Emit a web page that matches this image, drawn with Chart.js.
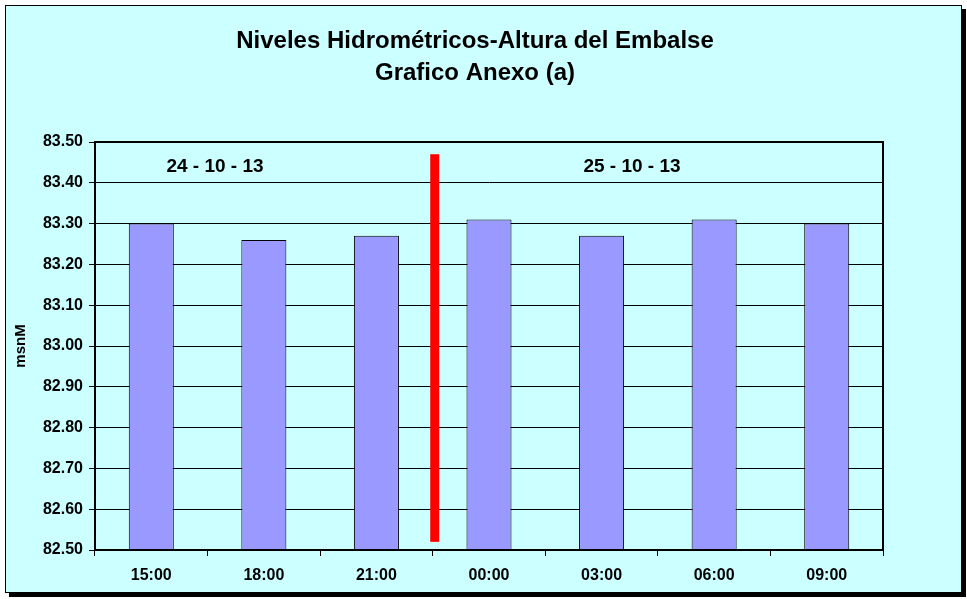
<!DOCTYPE html>
<html>
<head>
<meta charset="utf-8">
<script src="https://cdn.jsdelivr.net/npm/chart.js@4.4.0/dist/chart.umd.min.js"></script>
<style>
  body { margin: 0; background: #fff; }
  #frame {
    position: absolute; left: 5px; top: 5px; width: 955px; height: 586px;
    background: #CCFFFF; border: 1px solid #000; box-shadow: 4px 4px 0 #000;
  }
  #wrap { position: absolute; left: 0; top: 0; width: 967px; height: 599px; }
</style>
</head>
<body>
<div id="frame"></div>
<div id="wrap"><canvas id="myChart" width="967" height="599"></canvas></div>
<script>
const titulo = ['Niveles Hidrométricos-Altura del Embalse', 'Grafico Anexo (a)'];
const horas = ['15:00', '18:00', '21:00', '00:00', '03:00', '06:00', '09:00'];
const alturas = [83.30, 83.26, 83.27, 83.31, 83.27, 83.31, 83.30];
const fechas = ['24 - 10 - 13', '25 - 10 - 13'];

const ctx = document.getElementById('myChart');
const fuente = 'Arial, "Liberation Sans", sans-serif';

// titulo, marco del area, linea roja del cambio de dia y textos de fecha
const marcas = {
    id: 'marcas',
    afterDatasetsDraw(chart) {
        const c = chart.ctx;
        const x = chart.scales.x;
        const y = chart.scales.y;
        const a = chart.chartArea;

        c.save();
        c.fillStyle = '#000';
        c.font = 'bold 24px ' + fuente;
        c.textAlign = 'center';
        c.textBaseline = 'middle';
        c.fillText(titulo[0], 475, 41);
        c.fillText(titulo[1], 475, 73);

        c.strokeStyle = '#000';
        c.lineWidth = 2;
        c.strokeRect(a.left, a.top, a.right - a.left, a.bottom - a.top);

        c.fillStyle = '#FF0000';
        const xr = x.getPixelForValue(2.5) + 2;
        const y1 = y.getPixelForValue(83.47);
        const y2 = y.getPixelForValue(82.52);
        c.fillRect(xr - 4.5, y1, 9, y2 - y1);

        c.fillStyle = '#000';
        c.font = 'bold 19px ' + fuente;
        c.fillText(fechas[0], x.getPixelForValue(0.566), y.getPixelForValue(83.44));
        c.fillText(fechas[1], x.getPixelForValue(4.27), y.getPixelForValue(83.44));
        c.restore();
    }
};

new Chart(ctx, {
    type: 'bar',
    data: {
        labels: horas,
        datasets: [{
            label: 'msnM',
            data: alturas,
            backgroundColor: '#9999FF',
            borderColor: '#000',
            borderWidth: 1,
            barPercentage: 0.4,
            categoryPercentage: 1
        }]
    },
    options: {
        responsive: false,
        animation: false,
        layout: { padding: { left: 0, right: 84, top: 142, bottom: 0 } },
        plugins: {
            legend: { display: false },
            tooltip: { enabled: false },
            title: { display: false }
        },
        scales: {
            y: {
                min: 82.5,
                max: 83.5,
                afterFit(scale) { scale.width = 95; },
                ticks: {
                    stepSize: 0.1,
                    color: '#000',
                    padding: 6,
                    font: { family: fuente, size: 16, weight: 'bold' },
                    callback: v => Number(v).toFixed(2)
                },
                grid: { color: '#000', lineWidth: 1, tickLength: 6, tickColor: '#000' },
                border: { color: '#000', width: 2 },
                title: {
                    display: true,
                    text: 'msnM',
                    color: '#000',
                    font: { family: fuente, size: 15, weight: 'bold' },
                    padding: { top: 12, bottom: 0 }
                }
            },
            x: {
                offset: true,
                afterFit(scale) { scale.height = 49; },
                ticks: {
                    color: '#000',
                    padding: 10,
                    font: { family: fuente, size: 16, weight: 'bold' }
                },
                grid: { offset: true, drawOnChartArea: false, tickLength: 6, tickColor: '#000', color: '#000' },
                border: { color: '#000', width: 2 }
            }
        }
    },
    plugins: [marcas]
});
</script>
</body>
</html>
